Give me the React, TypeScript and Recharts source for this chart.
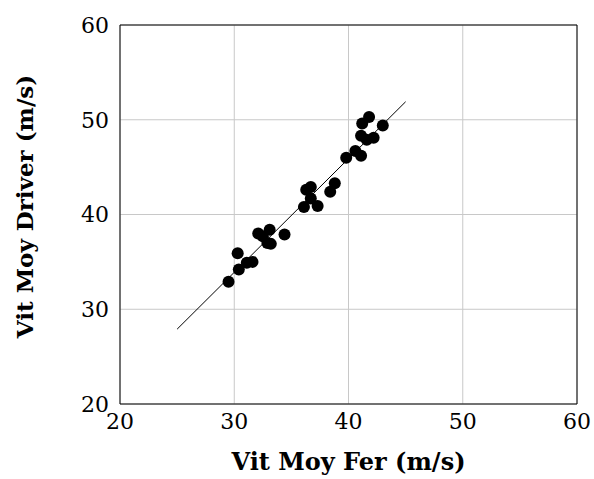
import React from 'react';
import {
  ScatterChart,
  Scatter,
  XAxis,
  YAxis,
  CartesianGrid,
  ReferenceArea,
} from 'recharts';

const ferSpeed = [
  29.5, 30.3, 30.4, 31.1, 31.6, 32.1, 32.5, 33.1, 32.9, 33.2, 34.4,
  36.1, 36.3, 36.7, 36.7, 37.3, 38.4, 38.8, 39.8, 40.6, 41.1, 41.1,
  41.2, 41.8, 41.6, 42.2, 43.0,
];
const driverSpeed = [
  32.9, 35.9, 34.2, 34.9, 35.0, 38.0, 37.7, 38.4, 37.0, 36.9, 37.9,
  40.8, 42.6, 42.9, 41.7, 40.9, 42.4, 43.3, 46.0, 46.7, 46.2, 48.3,
  49.6, 50.3, 47.9, 48.1, 49.4,
];
const fitX = [25, 45];
const fitY = [27.9, 51.9];
const ticks = [20, 30, 40, 50, 60];

const points = ferSpeed.map((x, i) => ({ x, y: driverSpeed[i] }));
const fitLine = fitX.map((x, i) => ({ x, y: fitY[i] }));

const font = "'DejaVu Serif', serif";

const YTitle = (props: any) => {
  const vb = props.viewBox || {};
  const cy = vb.y + vb.height / 2 - 8;
  return (
    <text
      x={24}
      y={cy}
      transform={`rotate(-90, 24, ${cy})`}
      textAnchor="middle"
      dominantBaseline="central"
      fontFamily={font}
      fontSize={23}
      fontWeight="bold"
      fill="#000"
    >
      Vit Moy Driver (m/s)
    </text>
  );
};

export default function App() {
  return (
    <div style={{ position: 'absolute', left: 0, top: 0 }}>
      <ScatterChart
        width={594}
        height={479}
        margin={{ top: 25, right: 17, bottom: 0, left: 0 }}
      >
        <CartesianGrid stroke="#c8c8c8" strokeWidth={1} />
        <XAxis
          type="number"
          dataKey="x"
          domain={[20, 60]}
          ticks={ticks}
          height={75}
          axisLine={false}
          tickLine={false}
          tick={{ fill: '#000', fontSize: 22, fontFamily: font }}
          tickMargin={3}
          label={{
            value: 'Vit Moy Fer (m/s)',
            position: 'insideBottom',
            offset: 9,
            fill: '#000',
            fontSize: 24,
            fontWeight: 'bold',
            fontFamily: font,
          }}
        />
        <YAxis
          type="number"
          dataKey="y"
          domain={[20, 60]}
          ticks={ticks}
          width={120}
          axisLine={false}
          tickLine={false}
          tick={{ fill: '#000', fontSize: 22, fontFamily: font }}
          tickMargin={5}
          label={<YTitle />}
        />
        <ReferenceArea
          x1={20}
          x2={60}
          y1={20}
          y2={60}
          fill="none"
          stroke="#000"
          strokeWidth={1}
          fillOpacity={0}
        />
        <Scatter
          data={fitLine}
          line={{ stroke: '#000', strokeWidth: 1 }}
          shape={() => <g />}
          isAnimationActive={false}
        />
        <Scatter
          data={points}
          fill="#000"
          shape={(p: any) => <circle cx={p.cx} cy={p.cy} r={6} fill="#000" />}
          isAnimationActive={false}
        />
      </ScatterChart>
    </div>
  );
}
